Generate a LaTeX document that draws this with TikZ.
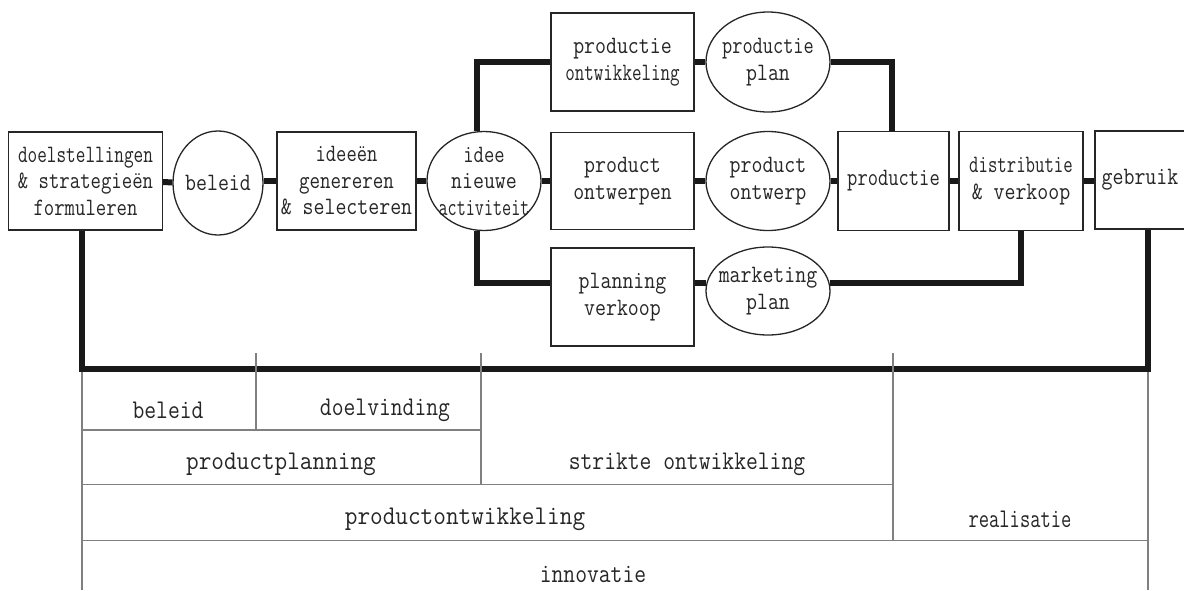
\documentclass[tikz,border=0pt]{standalone}
\usepackage{fontspec}
\usepackage{graphicx}
\usetikzlibrary{shapes.geometric}
\newfontfamily\typew[FakeStretch=0.85]{Latin Modern Mono}
\newcommand\topfont{\typew\fontsize{25}{26.5}\selectfont}
\newcommand\tabfont{\typew\fontsize{27}{28}\selectfont}
\newcommand\sx[2]{\scalebox{#1}[1]{#2}}
\tikzset{
  box/.style={draw=black!85, line width=1.3pt, rectangle, inner sep=0pt, align=center, font=\topfont, text=black!85, fill=white},
  oval/.style={draw=black!85, line width=1.3pt, ellipse, inner sep=-12pt, align=center, font=\topfont, text=black!85, fill=white},
  conn/.style={line width=6pt, draw=black!90, line join=miter},
  gridline/.style={line width=1.5pt, draw=black!50},
  tablabel/.style={font=\tabfont, text=black!85, inner sep=0pt}
}
\begin{document}
\begin{tikzpicture}[x=1pt,y=-1pt]
\useasboundingbox (0,0) rectangle (1184,590);
% middle row
\node[box, minimum width=154pt, minimum height=98pt] (doel) at (85.5,181) {\sx{0.88}{doelstellingen}\\\sx{0.95}{\& strategieën}\\\sx{0.95}{formuleren}};
\node[oval, minimum width=90pt, minimum height=104pt] (beleid) at (218,183) {beleid};
\node[box, minimum width=139pt, minimum height=98pt] (ideeen) at (346.5,181) {\sx{0.94}{ideeën}\\\sx{0.96}{genereren}\\\& selecteren};
\node[oval, minimum width=114pt, minimum height=99pt] (idee) at (484,181) {\sx{0.94}{idee}\\nieuwe\\\sx{0.83}{activiteit}};
\node[box, minimum width=143pt, minimum height=97pt] (pontwerpen) at (622.5,181) {product\\ontwerpen};
\node[oval, minimum width=124pt, minimum height=99pt] (pontwerp) at (768,181) {product\\ontwerp};
\node[box, minimum width=111pt, minimum height=99pt] (prod) at (893.5,181) {\sx{0.94}{productie}};
\node[box, minimum width=124pt, minimum height=99pt] (dist) at (1021,181) {\sx{0.86}{distributie}\\\& verkoop};
\node[box, minimum width=100pt, minimum height=98pt] (gebr) at (1145,180) {gebruik\hspace*{10pt}};
% top row
\node[box, minimum width=143pt, minimum height=98pt] (pontwikk) at (622.5,62) {productie\\\sx{0.87}{ontwikkeling}};
\node[oval, minimum width=124pt, minimum height=100pt] (pplan) at (768,62) {\sx{0.93}{productie}\\plan};
% bottom row
\node[box, minimum width=143pt, minimum height=98pt] (plan) at (622.5,297) {planning\\verkoop};
\node[oval, minimum width=124pt, minimum height=88pt] (mplan) at (768,291) {marketing\\plan};
% connectors, middle row
\draw[conn] (doel) -- (beleid);
\draw[conn] (beleid.east |- doel.east) -- (ideeen.west);
\draw[conn] (ideeen) -- (idee);
\draw[conn] (idee) -- (pontwerpen);
\draw[conn] (pontwerpen) -- (pontwerp);
\draw[conn] (pontwerp) -- (prod);
\draw[conn] (prod) -- (dist);
\draw[conn] (dist.east) -- (gebr.west |- dist.east);
% top branch
\draw[conn] ([xshift=-7pt]idee.north) |- (pontwikk.west);
\draw[conn] (pontwikk) -- (pplan);
\draw[conn] (pplan.east) -| ([xshift=-1.5pt]prod.north);
% bottom branch
\draw[conn] ([xshift=-7pt]idee.south) |- ([yshift=14pt]plan.west);
\draw[conn] ([yshift=14pt]plan.east) -- ([shift={(1pt,8pt)}]mplan.west);
\draw[conn] ([shift={(-1pt,8pt)}]mplan.east) -| (dist.south);
% big loop
\coordinate (bl) at (82,369);
\coordinate (br) at (1148,369);
\draw[conn] ([xshift=-3.5pt]doel.south) -- (bl) -- (br) -- ([xshift=3pt]gebr.south);
% table
\draw[gridline] (82,372) -- (82,590);
\draw[gridline] (1148,372) -- (1148,590);
\draw[gridline] (256,353) -- (256,430);
\draw[gridline] (481,353) -- (481,484.5);
\draw[gridline] (893,353) -- (893,540.5);
\draw[gridline] (82,430) -- (481,430);
\draw[gridline] (82,484.5) -- (893,484.5);
\draw[gridline] (82,540.5) -- (1148,540.5);
\node[tablabel] (tbeleid) at (168,410) {beleid};
\node[tablabel] (tdoel) at (385,410) {doelvinding};
\node[tablabel] (tpp) at (281,464) {\sx{1.07}{productplanning}};
\node[tablabel] (tso) at (687,464) {strikte ontwikkeling};
\node[tablabel] (tpo) at (465,519) {\sx{1.07}{productontwikkeling}};
\node[tablabel] (treal) at (1020,519) {\sx{0.87}{realisatie}};
\node[tablabel] (tinno) at (593,574) {innovatie};
\end{tikzpicture}
\end{document}
